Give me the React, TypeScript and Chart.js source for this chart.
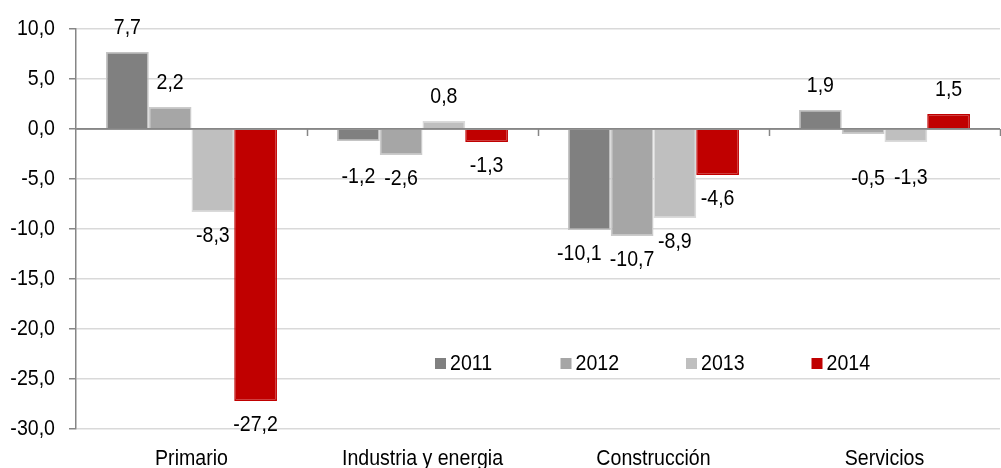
import React, { useEffect, useRef } from "react";
import { Chart, registerables } from "chart.js";

Chart.register(...registerables);

const categories = ["Primario", "Industria y energia", "Construcción", "Servicios"];
const seriesNames = ["2011", "2012", "2013", "2014"];
const values2011 = [7.7, -1.2, -10.1, 1.9];
const values2012 = [2.2, -2.6, -10.7, -0.5];
const values2013 = [-8.3, 0.8, -8.9, -1.3];
const values2014 = [-27.2, -1.3, -4.6, 1.5];
const yTicks = [10, 5, 0, -5, -10, -15, -20, -25, -30];

const seriesValues = [values2011, values2012, values2013, values2014];
const fillColors = ["#808080", "#a6a6a6", "#bfbfbf", "#c00000"];
const borderColors = ["#c4c4c4", "#cbcbcb", "#dadada", "#c00000"];

// label layout tweaks (pixels) relative to default "outside end" placement
const labelExtraDy = [
  [0, 12, 0, 0],
  [0, 0, 0, 21],
  [0, 0, 0, 12],
  [0, 0, 0, 0],
];
const labelDx = [
  [0, 0, -10, 0],
  [0, 0, 0, 5],
  [0, 0, 0, 5],
  [0, 0, 0, 0],
];

const FONT_FAMILY = "'Liberation Sans', Arial, sans-serif";
const FONT_SIZE = 22;
const NARROW = 0.89; // horizontal condensing to mimic a narrow face

const fmt = (v: number) => v.toFixed(1).replace(".", ",");

function drawText(ctx: CanvasRenderingContext2D, text: string, x: number, y: number, align: CanvasTextAlign, baseline: CanvasTextBaseline) {
  ctx.save();
  ctx.translate(x, y);
  ctx.scale(NARROW, 1);
  ctx.textAlign = align;
  ctx.textBaseline = baseline;
  ctx.fillText(text, 0, 0);
  ctx.restore();
}

const overlayPlugin = {
  id: "overlay",
  afterDatasetsDraw(chart: any) {
    const ctx = chart.ctx as CanvasRenderingContext2D;
    const area = chart.chartArea;
    const xs = chart.scales.x;
    const ys = chart.scales.y;
    const y0 = ys.getPixelForValue(0);

    // zero axis line with category boundary ticks
    ctx.save();
    ctx.strokeStyle = "#868686";
    ctx.lineWidth = 1.5;
    ctx.beginPath();
    ctx.moveTo(area.left, y0);
    ctx.lineTo(area.right, y0);
    const n = categories.length;
    for (let i = 1; i <= n; i++) {
      const bx = Math.round(xs.getPixelForValue(i - 0.5)) + 0.5;
      ctx.moveTo(bx, y0);
      ctx.lineTo(bx, y0 + 7);
    }
    ctx.stroke();
    ctx.restore();

    ctx.save();
    ctx.font = `${FONT_SIZE}px ${FONT_FAMILY}`;
    ctx.fillStyle = "#000";

    // y tick labels
    yTicks.forEach((v) => {
      drawText(ctx, fmt(v), area.left - 21, ys.getPixelForValue(v), "right", "middle");
    });

    // x category labels
    categories.forEach((c, i) => {
      drawText(ctx, c, xs.getPixelForValue(i), area.bottom + 36, "center", "alphabetic");
    });

    // data labels
    chart.data.datasets.forEach((ds: any, di: number) => {
      const meta = chart.getDatasetMeta(di);
      meta.data.forEach((el: any, i: number) => {
        const v = ds.data[i];
        const off = 24 + labelExtraDy[di][i];
        const y = v >= 0 ? el.y - off : el.y + off;
        drawText(ctx, fmt(v), el.x + labelDx[di][i], y, "center", "middle");
      });
    });

    // legend inside plot
    const ly = ys.getPixelForValue(-23.4);
    const lx0 = area.left + 359;
    const step = 125.5;
    seriesNames.forEach((name, i) => {
      const x = lx0 + i * step;
      ctx.fillStyle = fillColors[i];
      ctx.fillRect(x, ly - 5, 11, 11);
      ctx.fillStyle = "#000";
      drawText(ctx, name, x + 15, ly + 1, "left", "middle");
    });
    ctx.restore();
  },
};

export default function App() {
  const canvasRef = useRef<HTMLCanvasElement | null>(null);

  useEffect(() => {
    document.body.style.margin = "0";
    const canvas = canvasRef.current;
    if (!canvas) return;
    const chart = new Chart(canvas, {
      type: "bar",
      data: {
        labels: categories,
        datasets: seriesNames.map((name, i) => ({
          label: name,
          data: seriesValues[i],
          backgroundColor: fillColors[i],
          borderColor: borderColors[i],
          borderWidth: 1.5,
          categoryPercentage: 0.74,
          barPercentage: 1.0,
        })),
      },
      options: {
        responsive: false,
        animation: false,
        maintainAspectRatio: false,
        layout: { padding: { top: 29, right: 1, left: 0, bottom: 0 } },
        plugins: {
          legend: { display: false },
          tooltip: { enabled: false },
        },
        scales: {
          x: {
            grid: { display: false, drawTicks: false },
            border: { display: false },
            ticks: {
              color: "rgba(0,0,0,0)",
              font: { family: FONT_FAMILY, size: FONT_SIZE },
              padding: 10,
              maxRotation: 0,
              autoSkip: false,
            },
            afterFit: (s: any) => {
              s.height = 39;
            },
          },
          y: {
            min: -30,
            max: 10,
            afterBuildTicks: (s: any) => {
              s.ticks = yTicks.map((v) => ({ value: v }));
            },
            grid: {
              color: (c: any) => (c.tick && c.tick.value === 0 ? "#868686" : "#d9d9d9"),
              lineWidth: 1.5,
              tickColor: "#868686",
              tickLength: 7,
            },
            border: { display: true, color: "#868686", width: 1.5 },
            ticks: {
              color: "rgba(0,0,0,0)",
              font: { family: FONT_FAMILY, size: FONT_SIZE },
              padding: 13,
              callback: (v: any) => fmt(Number(v)),
            },
            afterFit: (s: any) => {
              s.width = 76;
            },
          },
        },
      },
      plugins: [overlayPlugin],
    });
    return () => chart.destroy();
  }, []);

  return (
    <div style={{ width: 1001, height: 468 }}>
      <canvas ref={canvasRef} width={1001} height={468} style={{ display: "block" }} />
    </div>
  );
}
